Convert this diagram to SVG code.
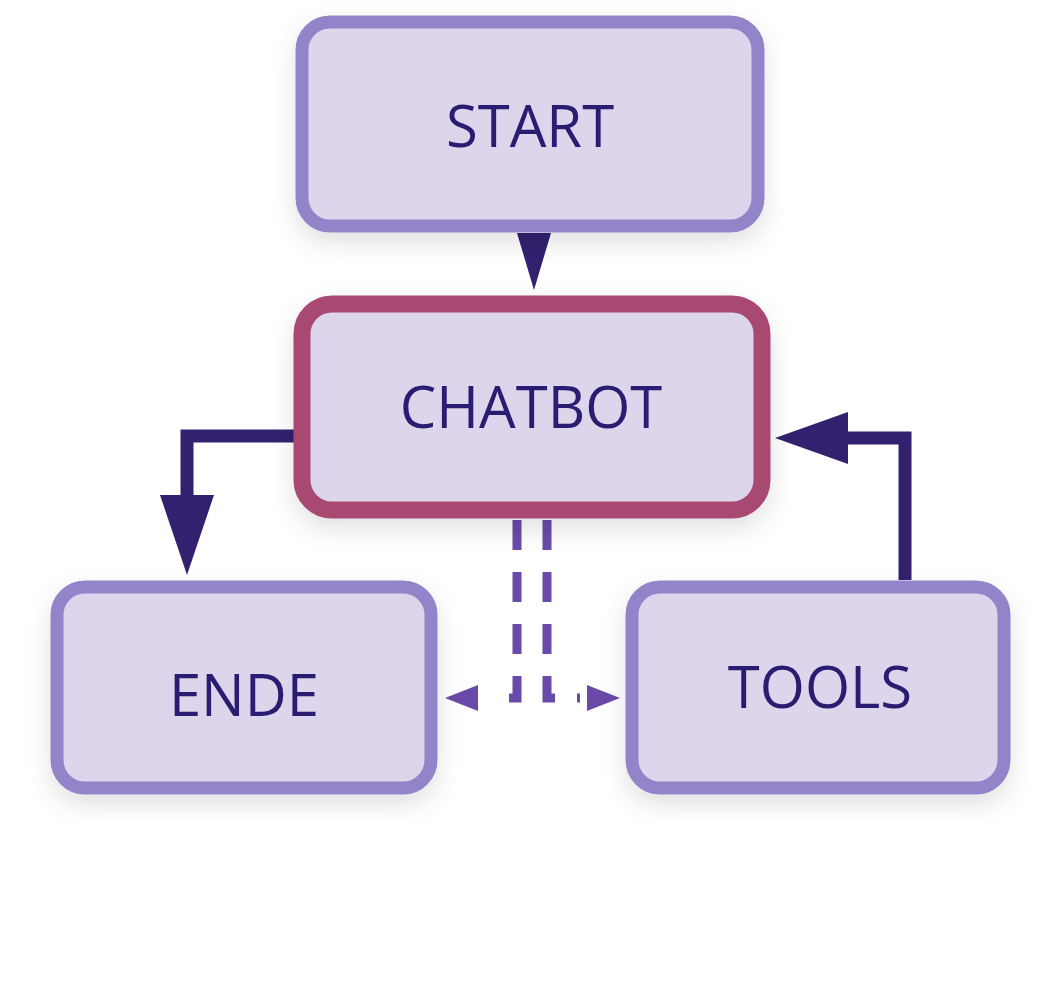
<svg xmlns="http://www.w3.org/2000/svg" width="1063" height="992" viewBox="0 0 1063 992">
<defs>
<style>
.n{fill:#ddd5ec;stroke:#9383c9;stroke-width:13}
.t{font-family:"Open Sans","Liberation Sans",sans-serif;font-size:58px;fill:#2b1a6f;text-anchor:middle}
.c{fill:none;stroke:#33206f;stroke-width:13}
.d{fill:none;stroke:#6a4aa8;stroke-width:9;stroke-dasharray:30 22}
</style>
<filter id="sh" x="-20%" y="-20%" width="140%" height="150%"><feDropShadow dx="0" dy="10" stdDeviation="12" flood-color="#000" flood-opacity="0.12"/></filter>
</defs>
<rect width="1063" height="992" fill="#fff"/>
<g id="connectors">
<polygon points="517,233 551,233 534,290" fill="#33206f"/>
<polyline class="c" points="297,436 187,436 187,505"/>
<polygon points="160,495 214,495 187,575" fill="#33206f"/>
<polyline class="c" points="905,580 905,438 845,438"/>
<polygon points="775,438 848,412 848,464" fill="#33206f"/>
<polyline class="d" points="517,520 517,698 490,698"/>
<polyline class="d" points="547,520 547,698 580,698"/>
<polygon points="445,698 478,685 478,711" fill="#6a4aa8"/>
<polygon points="620,698 587,685 587,711" fill="#6a4aa8"/>
</g>
<g id="start" filter="url(#sh)"><rect class="n" x="302" y="22" width="456" height="204" rx="28"/><text class="t" x="530" y="147">START</text></g>
<g id="chatbot" filter="url(#sh)"><rect class="n" x="302" y="304" width="460" height="206" rx="30" style="stroke:#a84872;stroke-width:17"/><text class="t" x="531" y="428">CHATBOT</text></g>
<g id="ende" filter="url(#sh)"><rect class="n" x="57" y="587" width="374" height="201" rx="28"/><text class="t" x="244" y="716">ENDE</text></g>
<g id="tools" filter="url(#sh)"><rect class="n" x="632" y="587" width="372" height="201" rx="28"/><text class="t" x="820" y="708">TOOLS</text></g>
</svg>
